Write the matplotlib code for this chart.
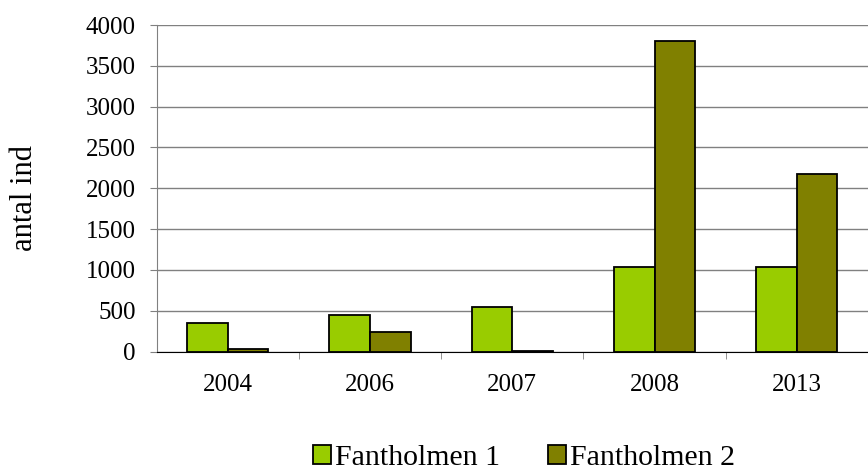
import matplotlib
matplotlib.use("Agg")
import matplotlib.pyplot as plt
import numpy as np

# data
years = ["2004", "2006", "2007", "2008", "2013"]
fantholmen_1 = [350, 450, 550, 1030, 1040]
fantholmen_2 = [25, 240, 10, 3800, 2170]
y_ticks = [0, 500, 1000, 1500, 2000, 2500, 3000, 3500, 4000]

plt.rcParams["font.family"] = ["Liberation Serif", "DejaVu Serif"]

fig = plt.figure(figsize=(8.68, 4.75), dpi=100)
ax = fig.add_axes([156.5 / 868, 1 - 351.5 / 475, 1 - 156.5 / 868, (351.5 - 25) / 475])

x = np.arange(len(years))
w = 0.285
ax.bar(x - w / 2, fantholmen_1, w, color="#99CC00", edgecolor="black", linewidth=1.3,
       label="Fantholmen 1", zorder=3)
ax.bar(x + w / 2, fantholmen_2, w, color="#808000", edgecolor="black", linewidth=1.3,
       label="Fantholmen 2", zorder=3)

ax.set_ylim(0, 4000)
ax.set_yticks(y_ticks)
ax.set_xlim(-0.5, -0.5 + 711.5 / 144.5)
ax.set_xticks(x)
ax.set_xticklabels(years)
ax.set_xticks(np.arange(len(years)) + 0.5, minor=True)

ax.yaxis.grid(True, color="#808080", linewidth=1.0, zorder=0)
ax.set_axisbelow(True)
for s in ["top", "right"]:
    ax.spines[s].set_visible(False)
ax.spines["left"].set_color("#808080")
ax.spines["bottom"].set_color("black")
ax.spines["bottom"].set_zorder(4)

ax.tick_params(axis="y", length=5, color="#808080", labelsize=18, pad=10)
ax.tick_params(axis="x", which="major", length=0, labelsize=18, pad=16)
ax.tick_params(axis="x", which="minor", length=5, color="#808080")

fig.text(25 / 868, 1 - 198 / 475, "antal ind", rotation=90, ha="center", va="center",
         fontsize=22)

fig.legend(loc="center", bbox_to_anchor=(524 / 868, 1 - 458 / 475), ncol=2,
           frameon=False, fontsize=21.5, handlelength=0.6, handleheight=0.6,
           handletextpad=0.15, columnspacing=1.6, borderpad=0.1)

fig.savefig("out.png", dpi=100)
